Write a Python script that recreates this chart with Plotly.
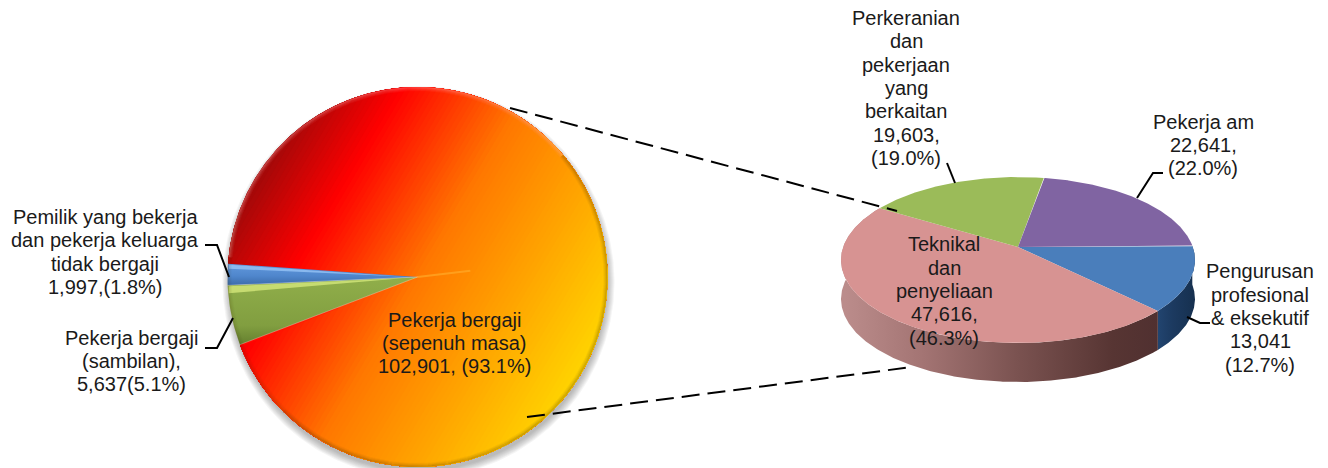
import numpy as np
import plotly.graph_objects as go

# ---- data ----
left_categories = ["Pekerja bergaji (sepenuh masa)", "Pekerja bergaji (sambilan)", "Pemilik yang bekerja dan pekerja keluarga tidak bergaji"]
left_values = [102901, 5637, 1997]
right_categories = ["Pengurusan profesional & eksekutif", "Teknikal dan penyeliaan", "Perkeranian dan pekerjaan yang berkaitan", "Pekerja am"]
right_values = [13041, 47616, 19603, 22641]

left_labels = [
    ["Pekerja bergaji", "(sepenuh masa)", "102,901, (93.1%)"],
    ["Pekerja bergaji", "(sambilan),", "5,637(5.1%)"],
    ["Pemilik yang bekerja", "dan pekerja keluarga", "tidak bergaji", "1,997,(1.8%)"],
]
right_labels = [
    ["Pengurusan", "profesional", "& eksekutif", "13,041", "(12.7%)"],
    ["Teknikal", "dan", "penyeliaan", "47,616,", "(46.3%)"],
    ["Perkeranian", "dan", "pekerjaan", "yang", "berkaitan", "19,603,", "(19.0%)"],
    ["Pekerja am", "22,641,", "(22.0%)"],
]

# ---- style / layout ----
FONT = "Liberation Sans"
FS = 20
PITCH = 23.3
TXT = "#1a1a1a"
LCX, LCY, LR = 417.5, 277.0, 190.0
L_START = 274.0
RCX, RCY, RX, RY, K, DEPTH = 1018.0, 260.0, 177.0, 83.0, 0.157, 39.0
R_START = 89.0
R_TOP = ["#4a7ebb", "#d79392", "#9bbb59", "#8064a2"]

fig = go.Figure()


def circ(cx, cy, r, a0, a1, n=None):
    n = n or max(3, int(abs(a1 - a0) * 2))
    a = np.radians(np.linspace(a0, a1, n))
    return cx + r * np.sin(a), cy - r * np.cos(a)


def spans(values, start):
    v = np.array(values, float)
    e = np.cumsum(v) / v.sum() * 360
    return [(start + a, start + b) for a, b in zip(np.r_[0, e[:-1]], e)]


def clip(px, py, gx, gy, t0):
    """Sutherland-Hodgman clip to gx*x+gy*y >= t0."""
    ox, oy = [], []
    n = len(px)
    d = gx * px + gy * py - t0
    for i in range(n):
        j = (i + 1) % n
        if d[i] >= 0:
            ox.append(px[i]); oy.append(py[i])
        if (d[i] >= 0) != (d[j] >= 0):
            f = d[i] / (d[i] - d[j])
            ox.append(px[i] + f * (px[j] - px[i])); oy.append(py[i] + f * (py[j] - py[i]))
    return ox, oy


def poly(x, y, color=None, grad=None):
    kw = dict(x=list(x), y=list(y), mode="lines", fill="toself", line=dict(width=0, color="rgba(0,0,0,0)"),
              hoverinfo="skip", showlegend=False)
    if color:
        kw["fillcolor"] = color
    if grad:
        kw["fillgradient"] = grad
    fig.add_trace(go.Scatter(**kw))


def stroke(x, y, color, width=1.0, dash=None):
    fig.add_trace(go.Scatter(x=list(x), y=list(y), mode="lines", line=dict(color=color, width=width, dash=dash),
                             hoverinfo="skip", showlegend=False))


# ---- left pie: soft shadow ----
for i in range(8):
    r = LR + 6 - i
    x, y = circ(LCX + 1, LCY + 5, r, 0, 360, 360)
    poly(x, y, color="rgba(90,90,90,0.06)")

left_spans = spans(left_values, L_START)

# red/orange/yellow slice: diagonal gradient built of stacked clipped layers
GX, GY = 0.86, 0.51
stops_t = np.array([300, 388, 500, 600, 690], float)
stops_c = np.array([[150, 10, 10], [255, 0, 0], [255, 120, 0], [255, 168, 0], [255, 213, 0]], float)
a0, a1 = left_spans[0]
ax, ay = circ(LCX, LCY, LR, a0, a1)
wx = np.r_[LCX, ax]
wy = np.r_[LCY, ay]
for t in np.linspace(300, 700, 90):
    c = [np.interp(t, stops_t, stops_c[:, k]) for k in range(3)]
    if t == 300:
        ox, oy = list(wx), list(wy)
    else:
        ox, oy = clip(wx, wy, GX, GY, t)
    if len(ox) > 2:
        poly(ox, oy, color=f"rgb({c[0]:.0f},{c[1]:.0f},{c[2]:.0f})")

# bevel glints along the straight edge of the large slice
ex, ey = circ(LCX, LCY, LR, a1, a1, 2)
stroke([ex[0] + 2, ex[0] + (LCX - ex[0]) * 0.55], [ey[0] - 1, ey[0] + (LCY - ey[0]) * 0.55 - 1], "rgba(255,20,0,0.55)", 4)
sx, sy = circ(LCX, LCY, LR * 0.28, a1 + 194, a1 + 194, 2)
stroke([LCX, sx[0]], [LCY, sy[0]], "rgba(255,170,40,0.7)", 2)

# green & blue slices with a tapered highlight below their top edge
green_grad = dict(type="vertical", colorscale=[[0, "#90ae4a"], [0.7, "#819e40"], [1, "#627d2e"]], start=278, stop=346)
blue_grad = dict(type="vertical", colorscale=[[0, "#5f95da"], [0.5, "#4f86cc"], [1, "#3a6aa8"]], start=266, stop=286)
glints = [("rgba(208,228,120,0.85)", 8), ("rgba(150,195,245,0.8)", 5)]
for sp, g, (gl, gh) in zip(left_spans[1:], [green_grad, blue_grad], glints):
    ax, ay = circ(LCX, LCY, LR, sp[0], sp[1])
    poly(np.r_[LCX, ax], np.r_[LCY, ay], grad=g)
    f = 0.92
    poly([ax[-1] + 1, ax[-1] + 1, ax[-1] + (LCX - ax[-1]) * f],
         [ay[-1] + 1, ay[-1] + gh, ay[-1] + (LCY - ay[-1]) * f + 0.5], color=gl)
    stroke(np.r_[LCX, ax[0]], np.r_[LCY, ay[0]], "rgba(255,255,255,0.3)", 1)

# rim bevel on the big disc: lit on the upper left, shaded on the lower right
for d, al in [(0.5, 0.26), (1.5, 0.17), (2.5, 0.10), (3.5, 0.05)]:
    x, y = circ(LCX, LCY, LR - d, 50, 225, 175)
    stroke(x, y, f"rgba(70,50,0,{al})", 1.2)
    x, y = circ(LCX, LCY, LR - d, 225, 290, 80)
    stroke(x, y, f"rgba(70,50,0,{al * 0.6})", 1.2)
    x, y = circ(LCX, LCY, LR - d, 276, 410, 140)
    stroke(x, y, f"rgba(255,170,170,{al * 1.3})", 1.2)


# ---- right pie ----
def proj(deg):
    a = np.radians(deg)
    u, v = np.sin(a), np.cos(a)
    den = 1 + K * v
    return RCX + RX * u * np.sqrt(1 - K * K) / den, RCY - RY * (v + K) / den


right_spans = spans(right_values, R_START)
ax_ = RCX
ay_ = RCY - RY * K

# front wall of the drum
wall = [
    (right_spans[0], dict(type="horizontal", colorscale=[[0, "#254a78"], [0.5, "#1c3a60"], [1, "#16304f"]], start=1150, stop=1195)),
    (right_spans[1], dict(type="horizontal", colorscale=[[0, "#bb8c8b"], [0.25, "#a37473"], [0.55, "#7a5250"], [0.85, "#573533"], [1, "#503030"]], start=845, stop=1160)),
]
for (s0, s1), g in wall:
    t = np.linspace(s0, s1, 300)
    x, y = proj(t)
    poly(np.r_[x, x[::-1]], np.r_[y, y[::-1] + DEPTH], grad=g)

# top surface
for (s0, s1), c in zip(right_spans, R_TOP):
    t = np.linspace(s0, s1, 300)
    x, y = proj(t)
    poly(np.r_[ax_, x], np.r_[ay_, y], color=c)

# ---- connector and leader lines ----
stroke([510, 897], [108, 211], "#000000", 2, "18px,8px")
stroke([527, 912], [417, 367], "#000000", 2, "18px,8px")
for xs, ys in [
    ([205, 217, 229], [245, 245, 277]),
    ([205, 217, 233], [348, 348, 318]),
    ([947, 955], [163, 183]),
    ([1163, 1153, 1137], [173, 173, 198]),
    ([1210, 1200, 1187], [323, 323, 317]),
]:
    stroke(xs, ys, "#000000", 2)

# ---- labels ----
texts = [
    (left_labels[0], 454, 343),
    (left_labels[1], 131, 361),
    (left_labels[2], 105, 252),
    (right_labels[0], 1260, 318),
    (right_labels[1], 944, 291),
    (right_labels[2], 906, 88),
    (right_labels[3], 1203, 145),
]
for lines, x, y in texts:
    top = y - PITCH * (len(lines) - 1) / 2
    for i, s in enumerate(lines):
        fig.add_annotation(x=x, y=top + i * PITCH, text=s, showarrow=False, align="center",
                           xanchor="center", yanchor="middle",
                           font=dict(family=FONT, size=FS, color=TXT))

fig.update_layout(
    width=1328, height=468, margin=dict(l=0, r=0, t=0, b=0), paper_bgcolor="white", plot_bgcolor="white",
    xaxis=dict(range=[0, 1328], visible=False, fixedrange=True),
    yaxis=dict(range=[468, 0], visible=False, fixedrange=True),
    showlegend=False,
)
fig.write_html("out.html", config={"displayModeBar": False},
               post_script="document.body.style.margin='0';document.documentElement.style.overflow='hidden';")
